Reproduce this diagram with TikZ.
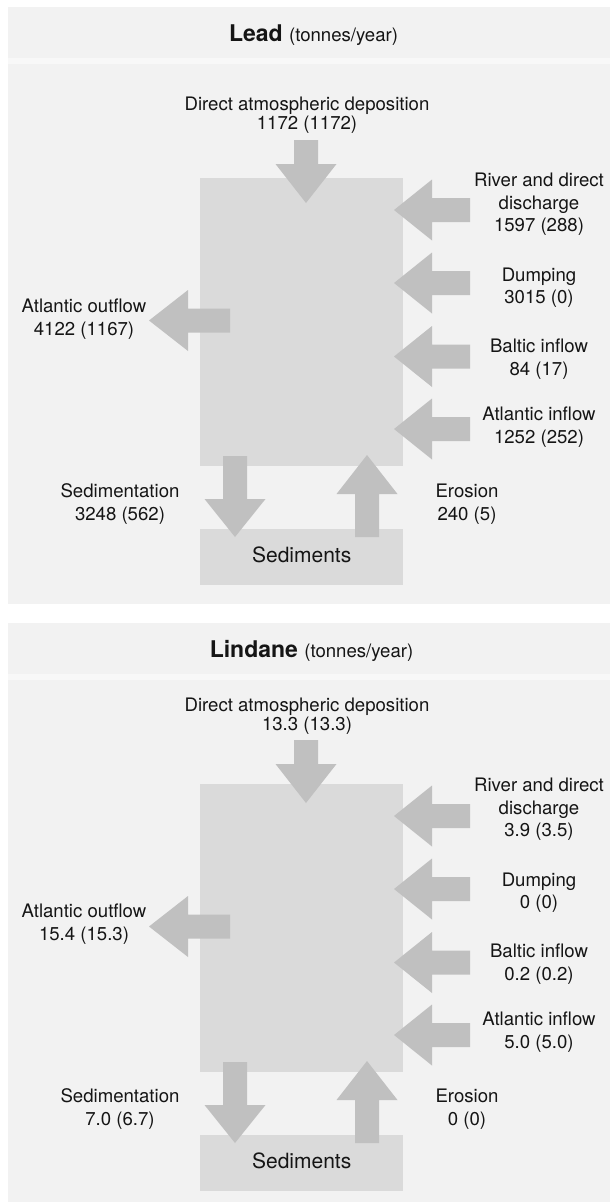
\documentclass[tikz,border=0pt]{standalone}
\usepackage{fontspec}
\setmainfont{TeX Gyre Heros}
\definecolor{panelbg}{HTML}{F2F2F2}
\definecolor{gapc}{HTML}{F8F8F8}
\definecolor{boxc}{HTML}{DADADA}
\definecolor{arrc}{HTML}{C0C0C0}
\definecolor{txt}{HTML}{151515}
\tikzset{
  lbl/.style={font=\fontsize{18.6}{22.3}\selectfont, align=center, inner sep=0pt, anchor=north, text=txt},
  deplbl/.style={lbl, font=\fontsize{18.6}{19}\selectfont},
  ttl/.style={font=\fontsize{18.6}{22}\selectfont, inner sep=0pt, anchor=base, text=txt},
  cbox/.style={fill=boxc, draw=none, inner sep=0pt, anchor=north west},
  sedbox/.style={cbox, minimum width=203pt, minimum height=56pt, font=\fontsize{21}{21}\selectfont, text depth=5pt, text=txt},
  seabox/.style={cbox, minimum width=203pt, minimum height=288pt},
  blockarr/.style={fill=arrc, draw=none},
  panel/.style={fill=panelbg, draw=none},
}
% left-pointing block arrow: tip x, tip y, head base x, shaft end x
\newcommand\blkleft[4]{\fill[blockarr] (#1,#2) -- (#3,#2-30.5) -- (#3,#2-12) -- (#4,#2-12) -- (#4,#2+12) -- (#3,#2+12) -- (#3,#2+30.5) -- cycle;}
% vertical block arrow: centre x, shaft end y, head base y, tip y
\newcommand\blkvert[4]{\fill[blockarr] (#1-12,#2) -- (#1+12,#2) -- (#1+12,#3) -- (#1+30.5,#3) -- (#1,#4) -- (#1-30.5,#3) -- (#1-12,#3) -- cycle;}
\newcommand\fs{\rule{0pt}{15pt}}
\begin{document}
\begin{tikzpicture}[x=1pt,y=-1pt]
\useasboundingbox (0,0) rectangle (610,1202);
\fill[white] (0,0) rectangle (610,1202);
% ---------------- Lead panel ----------------
\fill[panel] (8,7) rectangle (610,604);
\fill[gapc] (8,58) rectangle (610,64);
\node[ttl] (Lttl) at (313.5,41) {{\bfseries\fontsize{23}{23}\selectfont Lead\ }(tonnes/year)};
\node[seabox] (Lsea) at (200,178) {};
\node[sedbox] (Lsed) at (200,529) {Sediments};
\blkvert{306}{140}{164}{203}
\blkleft{394}{210}{432}{470}
\blkleft{394}{283}{432}{470}
\blkleft{394}{356.5}{432}{470}
\blkleft{394}{429}{432}{470}
\blkleft{149}{320.5}{188}{230}
\blkvert{235}{456}{499}{537}
\blkvert{367}{537}{494}{455}
\node[deplbl] (Ldep) at (307,95) {\fs Direct atmospheric deposition\\1172 (1172)};
\node[lbl] (Lriv) at (539,171.5) {\fs River and direct\\discharge\\1597 (288)};
\node[lbl] (Ldum) at (539,266) {\fs Dumping\\3015 (0)};
\node[lbl] (Lbal) at (539,337.5) {\fs Baltic inflow\\84 (17)};
\node[lbl] (Lain) at (539,405.5) {\fs Atlantic inflow\\1252 (252)};
\node[lbl] (Lout) at (84,297.5) {\fs Atlantic outflow\\4122 (1167)};
\node[lbl] (Lsdm) at (120,482.5) {\fs Sedimentation\\3248 (562)};
\node[lbl] (Lero) at (467,482.5) {\fs Erosion\\240 (5)};
% ---------------- Lindane panel ----------------
\fill[panel] (8,623) rectangle (610,1202);
\fill[gapc] (8,674) rectangle (610,680);
\node[ttl] (Nttl) at (311.5,657) {{\bfseries\fontsize{23}{23}\selectfont Lindane\ }(tonnes/year)};
\node[seabox] (Nsea) at (200,784) {};
\node[sedbox] (Nsed) at (200,1135) {Sediments};
\blkvert{306}{740}{764}{803}
\blkleft{394}{816}{432}{470}
\blkleft{394}{889}{432}{470}
\blkleft{394}{962.5}{432}{470}
\blkleft{394}{1035}{432}{470}
\blkleft{149}{926.5}{188}{230}
\blkvert{235}{1062}{1105}{1143}
\blkvert{367}{1143}{1100}{1061}
\node[deplbl] (Ndep) at (307,696) {\fs Direct atmospheric deposition\\13.3 (13.3)};
\node[lbl] (Nriv) at (539,776.5) {\fs River and direct\\discharge\\3.9 (3.5)};
\node[lbl] (Ndum) at (539,871) {\fs Dumping\\0 (0)};
\node[lbl] (Nbal) at (539,942.5) {\fs Baltic inflow\\0.2 (0.2)};
\node[lbl] (Nain) at (539,1010.5) {\fs Atlantic inflow\\5.0 (5.0)};
\node[lbl] (Nout) at (84,902.5) {\fs Atlantic outflow\\15.4 (15.3)};
\node[lbl] (Nsdm) at (120,1087.5) {\fs Sedimentation\\7.0 (6.7)};
\node[lbl] (Nero) at (467,1087.5) {\fs Erosion\\0 (0)};
\end{tikzpicture}
\end{document}
